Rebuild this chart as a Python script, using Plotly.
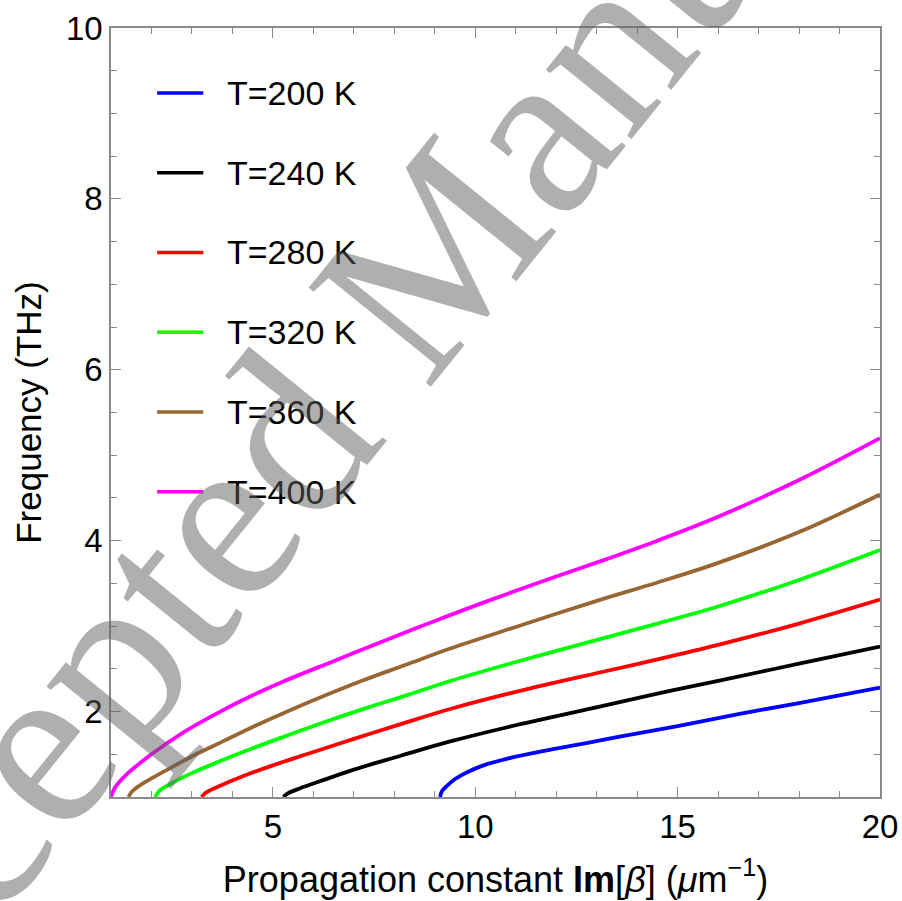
import plotly.graph_objects as go

# Dispersion curves: frequency (THz) vs propagation constant Im[beta] (1/um)
series_names = ["T=200 K", "T=240 K", "T=280 K", "T=320 K", "T=360 K", "T=400 K"]
series_colors = ["#0000ff", "#000000", "#ff0000", "#00ff00", "#996633", "#ff00ff"]

beta_200 = [9.13, 9.18, 9.3, 9.5, 9.8, 10.2, 10.8, 11.6, 12.5, 13.5, 15.0, 16.5, 18.0, 20.0]
freq_200 = [1.00, 1.07, 1.13, 1.21, 1.29, 1.37, 1.45, 1.53, 1.61, 1.70, 1.83, 1.97, 2.10, 2.28]

beta_240 = [5.26, 5.36, 5.66, 6.26, 7.0, 8.14, 9.38, 11.0, 13.1, 14.5, 16.0, 18.0, 20.0]
freq_240 = [1.00, 1.04, 1.10, 1.20, 1.32, 1.48, 1.65, 1.84, 2.06, 2.21, 2.36, 2.56, 2.76]

beta_280 = [3.24, 3.34, 3.64, 4.24, 5.0, 5.83, 7.0, 8.14, 9.38, 11.0, 13.1, 14.5, 16.0, 18.0, 20.0]
freq_280 = [1.00, 1.05, 1.12, 1.24, 1.37, 1.50, 1.68, 1.85, 2.03, 2.23, 2.46, 2.61, 2.78, 3.03, 3.31]

beta_320 = [2.09, 2.19, 2.49, 3.09, 3.7, 4.5, 5.3, 6.3, 7.3, 8.3, 9.4, 11.0, 13.1, 14.5, 16.0, 18.0, 20.0]
freq_320 = [1.00, 1.07, 1.16, 1.30, 1.42, 1.57, 1.71, 1.88, 2.04, 2.19, 2.36, 2.58, 2.85, 3.03, 3.23, 3.54, 3.89]

beta_360 = [1.43, 1.53, 1.83, 2.43, 3.1, 3.8, 4.5, 5.3, 6.3, 7.2, 8.3, 9.4, 11.0, 13.1, 14.5, 16.0, 18.0, 20.0]
freq_360 = [1.00, 1.07, 1.17, 1.33, 1.50, 1.66, 1.82, 1.99, 2.19, 2.36, 2.55, 2.74, 2.99, 3.31, 3.51, 3.74, 4.10, 4.54]

beta_400 = [1.0, 1.1, 1.4, 2.0, 2.8, 3.7, 4.5, 5.3, 6.5, 7.6, 9.0, 10.4, 12.0, 13.1, 14.5, 16.0, 18.0, 20.0]
freq_400 = [1.00, 1.11, 1.27, 1.50, 1.76, 2.00, 2.19, 2.36, 2.59, 2.80, 3.06, 3.31, 3.58, 3.76, 4.00, 4.28, 4.71, 5.20]

x_ticks = [5, 10, 15, 20]
y_ticks = [2, 4, 6, 8, 10]

betas = [beta_200, beta_240, beta_280, beta_320, beta_360, beta_400]
freqs = [freq_200, freq_240, freq_280, freq_320, freq_360, freq_400]

FONT = "Liberation Sans"
FRAME = "#8a8a8a"

fig = go.Figure()
for name, color, bx, fy in zip(series_names, series_colors, betas, freqs):
    fig.add_trace(go.Scatter(
        x=bx, y=fy, mode="lines", name=name,
        line=dict(color=color, width=3.8, shape="spline", smoothing=1.0),
        showlegend=False,
    ))

# Hand-placed legend: short line sample followed by its label
leg_x0, leg_x1, leg_text_x = 0.060, 0.120, 0.148
leg_top, leg_step = 0.9155, 0.1037
for i, (name, color) in enumerate(zip(series_names, series_colors)):
    yy = leg_top - i * leg_step
    fig.add_shape(type="line", xref="paper", yref="paper",
                  x0=leg_x0, x1=leg_x1, y0=yy, y1=yy,
                  line=dict(color=color, width=3.4))
    fig.add_annotation(xref="paper", yref="paper", x=leg_text_x, y=yy,
                       text=name, showarrow=False, xanchor="left", yanchor="middle",
                       font=dict(family=FONT, size=34, color="black"))

# Journal watermark across the figure
fig.add_annotation(xref="paper", yref="paper", x=0.380, y=0.657,
                   text="Accepted Manuscript", showarrow=False,
                   textangle=-51, xanchor="center", yanchor="middle",
                   font=dict(family="Liberation Serif, DejaVu Serif, serif", size=240,
                             color="rgba(95,95,95,0.5)"))

axis_common = dict(
    showline=True, linecolor=FRAME, linewidth=1.6, mirror="ticks",
    ticks="inside", tickcolor=FRAME, tickwidth=1.4, ticklen=10,
    showgrid=False, zeroline=False, automargin=False,
    tickfont=dict(family=FONT, size=33, color="black"),
)

fig.update_xaxes(
    range=[1, 20], tickvals=x_ticks,
    minor=dict(dtick=1, tick0=0, ticks="inside", ticklen=6, tickcolor=FRAME, tickwidth=1.4),
    title=dict(text="Propagation constant <b>Im</b>[<i>β</i>] (<i>μ</i>m<sup>−1</sup>)",
               font=dict(family=FONT, size=36, color="black"), standoff=22),
    **axis_common,
)
fig.update_yaxes(
    range=[1, 10], tickvals=y_ticks,
    minor=dict(dtick=0.5, tick0=0, ticks="inside", ticklen=6, tickcolor=FRAME, tickwidth=1.4),
    title=dict(text="Frequency (THz)",
               font=dict(family=FONT, size=35, color="black"), standoff=14),
    **axis_common,
)

fig.update_layout(
    width=902, height=901,
    margin=dict(l=111, r=22, t=28, b=104),
    paper_bgcolor="white", plot_bgcolor="white",
)

fig.write_html("out.html")
